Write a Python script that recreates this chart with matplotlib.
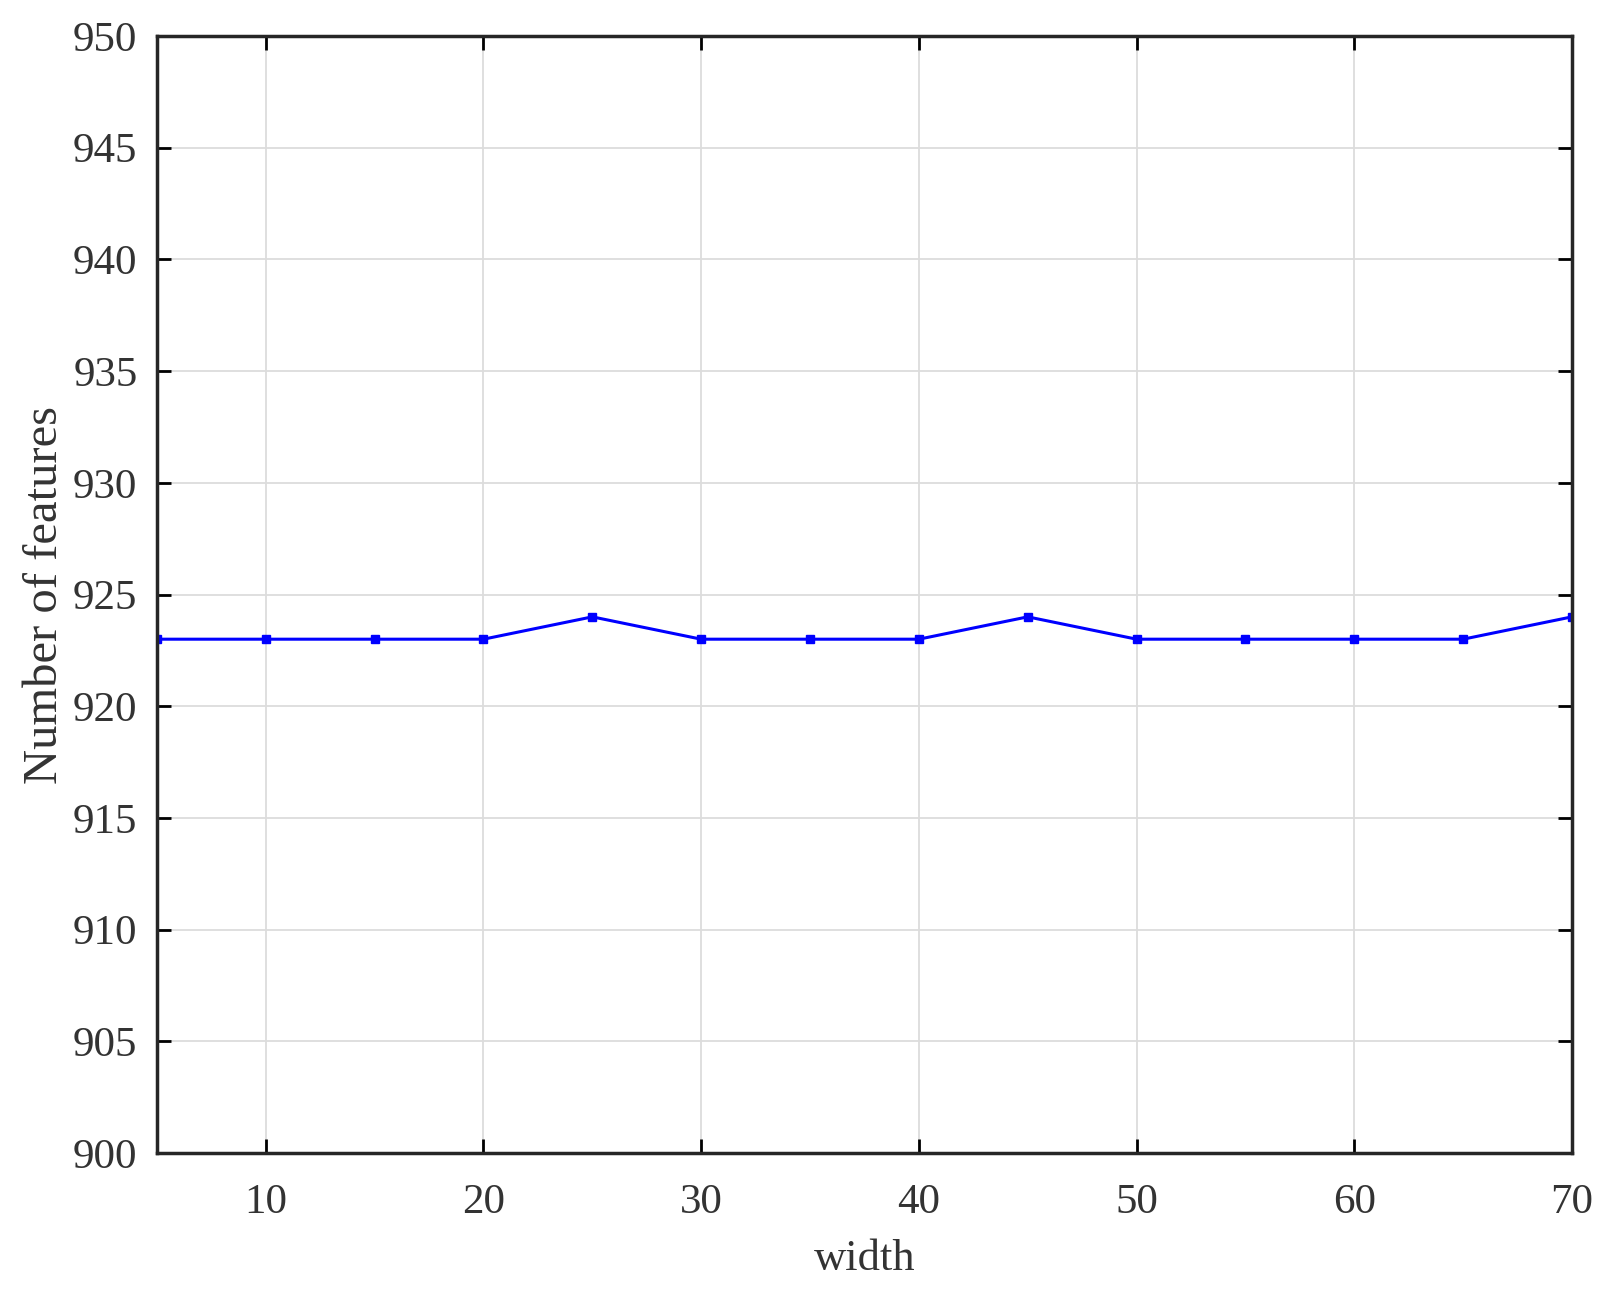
import numpy as np
import matplotlib.pyplot as plt

width = [5, 10, 15, 20, 25, 30, 35, 40, 45, 50, 55, 60, 65, 70]
n_features = [923, 923, 923, 923, 924, 923, 923, 923, 924, 923, 923, 923, 923, 924]

plt.rcParams['font.family'] = ['Liberation Serif', 'DejaVu Serif']

fig = plt.figure(figsize=(16.08, 12.92), dpi=100)
ax = fig.add_axes([0.0976, 0.1076, 0.88, 0.8645])

ax.plot(width, n_features, color='#0000ff', linewidth=2.2, marker='s', markersize=6)

ax.set_xlim(5, 70)
ax.set_ylim(900, 950)
ax.set_xticks(np.arange(10, 71, 10))
ax.set_yticks(np.arange(900, 951, 5))
ax.grid(True, color='#dcdcdc', linewidth=1.3)
ax.set_axisbelow(True)

ax.tick_params(direction='in', top=True, right=True, length=10, width=2,
               labelsize=31, labelcolor='#333333', pad=14)
ax.tick_params(axis='x', pad=22)
for s in ax.spines.values():
    s.set_linewidth(2.5)
    s.set_color('#262626')

ax.set_xlabel('width', fontsize=32, color='#333333', labelpad=12)
ax.set_ylabel('Number of features', fontsize=35, color='#333333', labelpad=4)

fig.savefig('out.png', dpi=100)
